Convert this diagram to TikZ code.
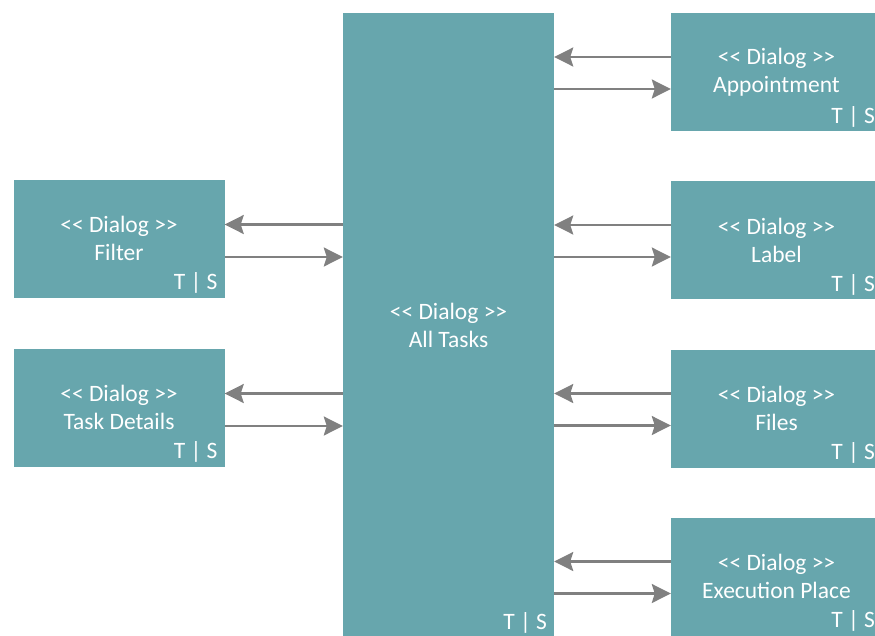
\documentclass[tikz,border=0pt]{standalone}
\usepackage{fontspec}
\setmainfont{Carlito}[Ligatures=TeXOff]
\usetikzlibrary{arrows.meta,calc}
\definecolor{dlgfill}{HTML}{67A6AD}
\definecolor{linkgray}{HTML}{808080}
\begin{document}
\begin{tikzpicture}[x=1pt,y=-1pt,
  dialog/.style={rectangle, fill=dlgfill, draw=none, text=white, align=center,
    inner sep=0pt, minimum width=211pt, minimum height=118pt,
    font=\fontsize{23.5}{28}\selectfont},
  tsmark/.style={text=white, inner sep=0pt, anchor=base east,
    font=\fontsize{23.5}{28}\selectfont},
  link/.style={draw=linkgray, line width=2.4pt,
    -{Stealth[length=19pt, width=19pt, inset=3pt]}}
]
\useasboundingbox (0,0) rectangle (875,635);
\clip (0,0) rectangle (875,635);

% dialog boxes
\node[dialog, minimum height=625pt] (all) at (448.5,325) {<< Dialog >>\\All Tasks};
\node[dialog] (filt)  at (119,238.5)  {<< Dialog >>\\Filter};
\node[dialog] (det)   at (119,407.5)  {<< Dialog >>\\Task Details};
\node[dialog] (appt)  at (776.5,72)   {<< Dialog >>\\Appointment};
\node[dialog] (lab)   at (776.5,240)  {<< Dialog >>\\Label};
\node[dialog] (files) at (776.5,408.5){<< Dialog >>\\Files};
\node[dialog] (exec)  at (776.5,576.5){<< Dialog >>\\Execution Place};

% corner marks
\foreach \b in {all,filt,det,appt,lab,files,exec}
  \node[tsmark] (ts-\b) at ($(\b.south east)+(-7,-8)$) {T | S};

% left dialogs: outgoing from All Tasks above, returning below
\foreach \b in {filt,det} {
  \coordinate (\b-in)  at ($(\b.east)+(0,-14)$);
  \coordinate (\b-out) at ($(\b.east)+(0,18.5)$);
  \draw[link] (all.west |- \b-in) -- (\b-in);
  \draw[link] (\b-out) -- (all.west |- \b-out);
}

% right dialogs: returning above, outgoing below
\foreach \b in {appt,lab,files,exec} {
  \coordinate (\b-in)  at ($(\b.west)+(0,-15)$);
  \coordinate (\b-out) at ($(\b.west)+(0,17)$);
  \draw[link] (\b-in) -- (all.east |- \b-in);
  \draw[link] (all.east |- \b-out) -- (\b-out);
}
\end{tikzpicture}
\end{document}
